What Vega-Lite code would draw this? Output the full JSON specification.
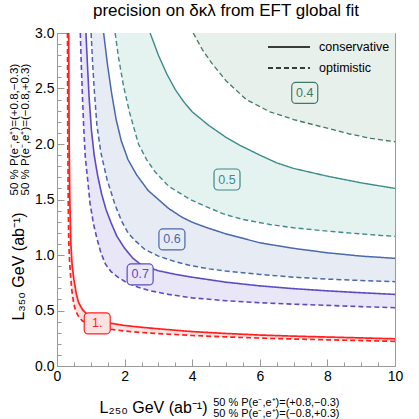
{
 "$schema": "https://vega.github.io/schema/vega-lite/v6.json",
 "width": 338, "height": 333, "autosize": "none",
 "padding": {"left": 57, "top": 33, "right": 24, "bottom": 53},
 "title": {"text": "precision on δκλ from EFT global fit", "fontSize": 17, "fontWeight": "normal", "font": "Liberation Sans", "offset": 8, "dy": 15, "baseline": "alphabetic", "anchor": "middle", "color": "black"},
 "config": {"view": {"stroke": "#999", "strokeWidth": 1}, "font": "Liberation Sans",
  "axis": {"grid": false, "domainColor": "#999", "tickColor": "#999", "labelColor": "black", "labelFontSize": 14, "labelFont": "Liberation Sans", "titleFont": "Liberation Sans", "titleFontWeight": "normal", "titleFontSize": 16, "titleColor": "black", "labelOverlap": false, "labelFlush": false, "zindex": 1}},
 "datasets": {
  "curves": [
   {"lv":"1.","st":"optimistic","x":0.31,"y":3.0},{"lv":"1.","st":"optimistic","x":0.32,"y":2.0},{"lv":"1.","st":"optimistic","x":0.335,"y":1.4},{"lv":"1.","st":"optimistic","x":0.35,"y":1.1},{"lv":"1.","st":"optimistic","x":0.37,"y":0.95},{"lv":"1.","st":"optimistic","x":0.4,"y":0.82},{"lv":"1.","st":"optimistic","x":0.44,"y":0.68},{"lv":"1.","st":"optimistic","x":0.49,"y":0.57},{"lv":"1.","st":"optimistic","x":0.55,"y":0.5},{"lv":"1.","st":"optimistic","x":0.63,"y":0.45},{"lv":"1.","st":"optimistic","x":0.74,"y":0.41},{"lv":"1.","st":"optimistic","x":0.9,"y":0.38},{"lv":"1.","st":"optimistic","x":1.1,"y":0.36},{"lv":"1.","st":"optimistic","x":1.48,"y":0.335},{"lv":"1.","st":"optimistic","x":2.0,"y":0.315},{"lv":"1.","st":"optimistic","x":2.46,"y":0.303},{"lv":"1.","st":"optimistic","x":3.0,"y":0.292},{"lv":"1.","st":"optimistic","x":4.0,"y":0.275},{"lv":"1.","st":"optimistic","x":5.0,"y":0.262},{"lv":"1.","st":"optimistic","x":6.0,"y":0.252},{"lv":"1.","st":"optimistic","x":7.0,"y":0.243},{"lv":"1.","st":"optimistic","x":8.0,"y":0.236},{"lv":"1.","st":"optimistic","x":9.0,"y":0.229},{"lv":"1.","st":"optimistic","x":10.0,"y":0.222},
   {"lv":"1.","st":"conservative","x":0.345,"y":3.0},{"lv":"1.","st":"conservative","x":0.36,"y":2.0},{"lv":"1.","st":"conservative","x":0.38,"y":1.5},{"lv":"1.","st":"conservative","x":0.41,"y":1.1},{"lv":"1.","st":"conservative","x":0.45,"y":0.9},{"lv":"1.","st":"conservative","x":0.5,"y":0.78},{"lv":"1.","st":"conservative","x":0.57,"y":0.65},{"lv":"1.","st":"conservative","x":0.64,"y":0.57},{"lv":"1.","st":"conservative","x":0.75,"y":0.51},{"lv":"1.","st":"conservative","x":0.89,"y":0.465},{"lv":"1.","st":"conservative","x":1.0,"y":0.44},{"lv":"1.","st":"conservative","x":1.2,"y":0.41},{"lv":"1.","st":"conservative","x":1.48,"y":0.39},{"lv":"1.","st":"conservative","x":2.0,"y":0.365},{"lv":"1.","st":"conservative","x":2.46,"y":0.35},{"lv":"1.","st":"conservative","x":3.0,"y":0.335},{"lv":"1.","st":"conservative","x":4.0,"y":0.31},{"lv":"1.","st":"conservative","x":5.0,"y":0.293},{"lv":"1.","st":"conservative","x":6.0,"y":0.279},{"lv":"1.","st":"conservative","x":7.0,"y":0.269},{"lv":"1.","st":"conservative","x":8.0,"y":0.261},{"lv":"1.","st":"conservative","x":9.0,"y":0.253},{"lv":"1.","st":"conservative","x":10.0,"y":0.245},
   {"lv":"0.7","st":"optimistic","x":0.69,"y":3.0},{"lv":"0.7","st":"optimistic","x":0.72,"y":2.7},{"lv":"0.7","st":"optimistic","x":0.75,"y":2.45},{"lv":"0.7","st":"optimistic","x":0.79,"y":2.15},{"lv":"0.7","st":"optimistic","x":0.84,"y":1.87},{"lv":"0.7","st":"optimistic","x":0.9,"y":1.7},{"lv":"0.7","st":"optimistic","x":0.98,"y":1.46},{"lv":"0.7","st":"optimistic","x":1.08,"y":1.28},{"lv":"0.7","st":"optimistic","x":1.18,"y":1.15},{"lv":"0.7","st":"optimistic","x":1.3,"y":1.02},{"lv":"0.7","st":"optimistic","x":1.43,"y":0.92},{"lv":"0.7","st":"optimistic","x":1.6,"y":0.85},{"lv":"0.7","st":"optimistic","x":1.8,"y":0.8},{"lv":"0.7","st":"optimistic","x":2.07,"y":0.75},{"lv":"0.7","st":"optimistic","x":2.4,"y":0.71},{"lv":"0.7","st":"optimistic","x":2.76,"y":0.678},{"lv":"0.7","st":"optimistic","x":3.3,"y":0.645},{"lv":"0.7","st":"optimistic","x":4.0,"y":0.614},{"lv":"0.7","st":"optimistic","x":5.0,"y":0.588},{"lv":"0.7","st":"optimistic","x":6.0,"y":0.57},{"lv":"0.7","st":"optimistic","x":7.0,"y":0.557},{"lv":"0.7","st":"optimistic","x":8.0,"y":0.546},{"lv":"0.7","st":"optimistic","x":9.0,"y":0.535},{"lv":"0.7","st":"optimistic","x":10.0,"y":0.525},
   {"lv":"0.7","st":"conservative","x":0.856,"y":3.0},{"lv":"0.7","st":"conservative","x":0.9,"y":2.72},{"lv":"0.7","st":"conservative","x":0.95,"y":2.42},{"lv":"0.7","st":"conservative","x":1.02,"y":2.12},{"lv":"0.7","st":"conservative","x":1.1,"y":1.9},{"lv":"0.7","st":"conservative","x":1.2,"y":1.72},{"lv":"0.7","st":"conservative","x":1.32,"y":1.55},{"lv":"0.7","st":"conservative","x":1.45,"y":1.41},{"lv":"0.7","st":"conservative","x":1.6,"y":1.29},{"lv":"0.7","st":"conservative","x":1.77,"y":1.17},{"lv":"0.7","st":"conservative","x":2.0,"y":1.06},{"lv":"0.7","st":"conservative","x":2.25,"y":0.97},{"lv":"0.7","st":"conservative","x":2.5,"y":0.91},{"lv":"0.7","st":"conservative","x":3.0,"y":0.858},{"lv":"0.7","st":"conservative","x":3.5,"y":0.826},{"lv":"0.7","st":"conservative","x":4.0,"y":0.8},{"lv":"0.7","st":"conservative","x":5.0,"y":0.755},{"lv":"0.7","st":"conservative","x":6.0,"y":0.722},{"lv":"0.7","st":"conservative","x":7.0,"y":0.697},{"lv":"0.7","st":"conservative","x":8.0,"y":0.677},{"lv":"0.7","st":"conservative","x":9.0,"y":0.66},{"lv":"0.7","st":"conservative","x":10.0,"y":0.645},
   {"lv":"0.6","st":"optimistic","x":1.01,"y":3.0},{"lv":"0.6","st":"optimistic","x":1.05,"y":2.75},{"lv":"0.6","st":"optimistic","x":1.1,"y":2.5},{"lv":"0.6","st":"optimistic","x":1.18,"y":2.17},{"lv":"0.6","st":"optimistic","x":1.3,"y":1.92},{"lv":"0.6","st":"optimistic","x":1.48,"y":1.68},{"lv":"0.6","st":"optimistic","x":1.72,"y":1.45},{"lv":"0.6","st":"optimistic","x":1.92,"y":1.3},{"lv":"0.6","st":"optimistic","x":2.1,"y":1.2},{"lv":"0.6","st":"optimistic","x":2.31,"y":1.13},{"lv":"0.6","st":"optimistic","x":2.6,"y":1.05},{"lv":"0.6","st":"optimistic","x":3.0,"y":0.99},{"lv":"0.6","st":"optimistic","x":3.5,"y":0.94},{"lv":"0.6","st":"optimistic","x":3.94,"y":0.906},{"lv":"0.6","st":"optimistic","x":4.5,"y":0.875},{"lv":"0.6","st":"optimistic","x":5.0,"y":0.855},{"lv":"0.6","st":"optimistic","x":6.0,"y":0.825},{"lv":"0.6","st":"optimistic","x":7.0,"y":0.8},{"lv":"0.6","st":"optimistic","x":8.0,"y":0.783},{"lv":"0.6","st":"optimistic","x":9.0,"y":0.77},{"lv":"0.6","st":"optimistic","x":10.0,"y":0.76},
   {"lv":"0.6","st":"conservative","x":1.38,"y":3.0},{"lv":"0.6","st":"conservative","x":1.5,"y":2.7},{"lv":"0.6","st":"conservative","x":1.62,"y":2.45},{"lv":"0.6","st":"conservative","x":1.75,"y":2.22},{"lv":"0.6","st":"conservative","x":1.9,"y":2.03},{"lv":"0.6","st":"conservative","x":2.1,"y":1.86},{"lv":"0.6","st":"conservative","x":2.36,"y":1.72},{"lv":"0.6","st":"conservative","x":2.7,"y":1.58},{"lv":"0.6","st":"conservative","x":3.0,"y":1.5},{"lv":"0.6","st":"conservative","x":3.3,"y":1.42},{"lv":"0.6","st":"conservative","x":3.7,"y":1.34},{"lv":"0.6","st":"conservative","x":4.0,"y":1.295},{"lv":"0.6","st":"conservative","x":4.4,"y":1.25},{"lv":"0.6","st":"conservative","x":5.0,"y":1.19},{"lv":"0.6","st":"conservative","x":6.0,"y":1.11},{"lv":"0.6","st":"conservative","x":7.0,"y":1.06},{"lv":"0.6","st":"conservative","x":8.0,"y":1.02},{"lv":"0.6","st":"conservative","x":9.0,"y":0.99},{"lv":"0.6","st":"conservative","x":10.0,"y":0.97},
   {"lv":"0.5","st":"optimistic","x":1.72,"y":3.0},{"lv":"0.5","st":"optimistic","x":1.82,"y":2.78},{"lv":"0.5","st":"optimistic","x":1.97,"y":2.52},{"lv":"0.5","st":"optimistic","x":2.15,"y":2.28},{"lv":"0.5","st":"optimistic","x":2.41,"y":2.0},{"lv":"0.5","st":"optimistic","x":2.65,"y":1.86},{"lv":"0.5","st":"optimistic","x":2.9,"y":1.75},{"lv":"0.5","st":"optimistic","x":3.3,"y":1.62},{"lv":"0.5","st":"optimistic","x":3.94,"y":1.5},{"lv":"0.5","st":"optimistic","x":4.38,"y":1.44},{"lv":"0.5","st":"optimistic","x":4.92,"y":1.37},{"lv":"0.5","st":"optimistic","x":5.5,"y":1.32},{"lv":"0.5","st":"optimistic","x":6.3,"y":1.275},{"lv":"0.5","st":"optimistic","x":7.0,"y":1.245},{"lv":"0.5","st":"optimistic","x":8.0,"y":1.215},{"lv":"0.5","st":"optimistic","x":9.0,"y":1.19},{"lv":"0.5","st":"optimistic","x":10.0,"y":1.167},
   {"lv":"0.5","st":"conservative","x":2.755,"y":3.0},{"lv":"0.5","st":"conservative","x":3.0,"y":2.8},{"lv":"0.5","st":"conservative","x":3.25,"y":2.63},{"lv":"0.5","st":"conservative","x":3.5,"y":2.49},{"lv":"0.5","st":"conservative","x":3.75,"y":2.38},{"lv":"0.5","st":"conservative","x":4.0,"y":2.29},{"lv":"0.5","st":"conservative","x":4.48,"y":2.17},{"lv":"0.5","st":"conservative","x":5.0,"y":2.06},{"lv":"0.5","st":"conservative","x":5.4,"y":1.99},{"lv":"0.5","st":"conservative","x":6.0,"y":1.9},{"lv":"0.5","st":"conservative","x":6.5,"y":1.83},{"lv":"0.5","st":"conservative","x":7.0,"y":1.78},{"lv":"0.5","st":"conservative","x":8.0,"y":1.71},{"lv":"0.5","st":"conservative","x":9.0,"y":1.65},{"lv":"0.5","st":"conservative","x":10.0,"y":1.6},
   {"lv":"0.4","st":"optimistic","x":4.03,"y":3.0},{"lv":"0.4","st":"optimistic","x":4.3,"y":2.85},{"lv":"0.4","st":"optimistic","x":4.6,"y":2.72},{"lv":"0.4","st":"optimistic","x":5.0,"y":2.57},{"lv":"0.4","st":"optimistic","x":5.6,"y":2.4},{"lv":"0.4","st":"optimistic","x":6.3,"y":2.29},{"lv":"0.4","st":"optimistic","x":7.0,"y":2.22},{"lv":"0.4","st":"optimistic","x":7.7,"y":2.165},{"lv":"0.4","st":"optimistic","x":8.66,"y":2.09},{"lv":"0.4","st":"optimistic","x":9.3,"y":2.05},{"lv":"0.4","st":"optimistic","x":10.0,"y":2.02}
  ],
  "labels": [
   {"lab":"1.","lv":"1.","x":1.19,"y":0.384},
   {"lab":"0.7","lv":"0.7","x":2.46,"y":0.825},
   {"lab":"0.6","lv":"0.6","x":3.4,"y":1.14},
   {"lab":"0.5","lv":"0.5","x":5.03,"y":1.68},
   {"lab":"0.4","lv":"0.4","x":7.33,"y":2.46}
  ],
  "notes": [
   {"where":"x","t":["50 % P(e⁻,e⁺)=(+0.8,−0.3)", "50 % P(e⁻,e⁺)=(−0.8,+0.3)"],"x":4.62,"y":-0.336},
   {"where":"y","t":["50 % P(e⁻,e⁺)=(+0.8,−0.3)", "50 % P(e⁻,e⁺)=(−0.8,+0.3)"],"x":-1.23,"y":2.13}
  ]
 },
 "data": {"name": "curves"},
 "encoding": {
  "x": {"field": "x", "type": "quantitative", "scale": {"domain": [0, 10], "nice": false, "zero": false},
   "axis": {"values": [0,0.5,1,1.5,2,2.5,3,3.5,4,4.5,5,5.5,6,6.5,7,7.5,8,8.5,9,9.5,10],
    "labelExpr": "datum.value % 2 == 0 ? format(datum.value, 'd') : ''",
    "tickSize": {"condition": {"test": "datum.value % 2 == 0", "value": -7}, "value": -4},
    "labelPadding": 10,
    "title": "L₂₅₀ GeV (ab⁻¹)", "titleX": 150, "titleY": 46, "titleAlign": "right", "titleBaseline": "alphabetic"}},
  "y": {"field": "y", "type": "quantitative", "scale": {"domain": [0, 3], "nice": false, "zero": false},
   "axis": {"values": [0,0.1,0.2,0.3,0.4,0.5,0.6,0.7,0.8,0.9,1,1.1,1.2,1.3,1.4,1.5,1.6,1.7,1.8,1.9,2,2.1,2.2,2.3,2.4,2.5,2.6,2.7,2.8,2.9,3],
    "labelExpr": "abs(datum.value*2 - round(datum.value*2)) < 0.001 ? format(datum.value, '.1f') : ''",
    "tickSize": {"condition": {"test": "abs(datum.value*2 - round(datum.value*2)) < 0.001", "value": -7}, "value": -4},
    "labelPadding": 10,
    "title": "L₃₅₀ GeV (ab⁻¹)", "titleX": -39, "titleY": 233, "titleAlign": "center", "titleBaseline": "middle"}}
 },
 "layer": [
  {"transform": [{"filter": "datum.lv == '1.' && datum.st == 'optimistic'"}], "mark": {"type": "area", "color": "#fde2e2", "opacity": 1, "clip": true}, "encoding": {"y2": {"datum": 3}}},
  {"transform": [{"filter": "datum.lv == '1.' && datum.st == 'conservative'"}], "mark": {"type": "area", "color": "white", "opacity": 1, "clip": true}, "encoding": {"y2": {"datum": 3}}},
  {"transform": [{"filter": "datum.lv == '0.7' && datum.st == 'optimistic'"}], "mark": {"type": "area", "color": "#e9e6f7", "opacity": 1, "clip": true}, "encoding": {"y2": {"datum": 3}}},
  {"transform": [{"filter": "datum.lv == '0.7' && datum.st == 'conservative'"}], "mark": {"type": "area", "color": "white", "opacity": 1, "clip": true}, "encoding": {"y2": {"datum": 3}}},
  {"transform": [{"filter": "datum.lv == '0.6' && datum.st == 'optimistic'"}], "mark": {"type": "area", "color": "#e6ebf4", "opacity": 1, "clip": true}, "encoding": {"y2": {"datum": 3}}},
  {"transform": [{"filter": "datum.lv == '0.6' && datum.st == 'conservative'"}], "mark": {"type": "area", "color": "white", "opacity": 1, "clip": true}, "encoding": {"y2": {"datum": 3}}},
  {"transform": [{"filter": "datum.lv == '0.5' && datum.st == 'optimistic'"}], "mark": {"type": "area", "color": "#e4f3f0", "opacity": 1, "clip": true}, "encoding": {"y2": {"datum": 3}}},
  {"transform": [{"filter": "datum.lv == '0.5' && datum.st == 'conservative'"}], "mark": {"type": "area", "color": "white", "opacity": 1, "clip": true}, "encoding": {"y2": {"datum": 3}}},
  {"transform": [{"filter": "datum.lv == '0.4' && datum.st == 'optimistic'"}], "mark": {"type": "area", "color": "#e7f0eb", "opacity": 1, "clip": true}, "encoding": {"y2": {"datum": 3}}},
  {"mark": {"type": "line", "clip": true},
   "encoding": {
    "stroke": {"field": "lv", "type": "nominal", "scale": {"domain": ["1.","0.7","0.6","0.5","0.4"], "range": ["#ff2020","#5b4cc4","#4a68ac","#3f8a8a","#3f7a68"]}, "legend": null},
    "strokeWidth": {"field": "lv", "type": "nominal", "scale": {"domain": ["1.","0.7","0.6","0.5","0.4"], "range": [1.7,1.3,1.3,1.3,1.3]}, "legend": null},
    "strokeDash": {"field": "st", "type": "nominal", "scale": {"domain": ["conservative","optimistic"], "range": [[1,0],[5,3]]},
     "legend": {"title": null, "orient": "none", "legendX": 224, "legendY": 6, "padding": 0, "symbolType": "M-3,0H3", "symbolSize": 196, "symbolStrokeColor": "black", "symbolFillColor": "transparent", "symbolStrokeWidth": 1.5, "labelOffset": 22, "labelFontSize": 12.5, "labelFont": "Liberation Sans", "labelColor": "black", "rowPadding": 6}}}},
  {"data": {"name": "labels"}, "mark": {"type": "rect", "width": 26, "height": 21, "cornerRadius": 4, "strokeWidth": 1.2},
   "encoding": {
    "fill": {"field": "lv", "type": "nominal", "scale": {"domain": ["1.","0.7","0.6","0.5","0.4"], "range": ["#fde2e2","#e9e6f7","#e6ebf4","#e4f3f0","#e7f0eb"]}, "legend": null},
    "stroke": {"field": "lv", "type": "nominal", "legend": null}}},
  {"data": {"name": "labels"}, "mark": {"type": "text", "fontSize": 12.5, "font": "Liberation Sans"},
   "encoding": {
    "text": {"field": "lab", "type": "nominal"},
    "color": {"field": "lv", "type": "nominal", "scale": {"domain": ["1.","0.7","0.6","0.5","0.4"], "range": ["#ff2020","#5b4cc4","#4a68ac","#3f8a8a","#3f7a68"]}, "legend": null}}},
  {"data": {"name": "notes"}, "transform": [{"filter": "datum.where == 'x'"}], "mark": {"type": "text", "align": "left", "baseline": "middle", "fontSize": 11, "lineHeight": 10.5, "font": "Liberation Sans", "color": "black"},
   "encoding": {"text": {"field": "t", "type": "nominal"}}},
  {"data": {"name": "notes"}, "transform": [{"filter": "datum.where == 'y'"}], "mark": {"type": "text", "align": "center", "baseline": "middle", "angle": 270, "fontSize": 11.5, "lineHeight": 10.5, "font": "Liberation Sans", "color": "black"},
   "encoding": {"text": {"field": "t", "type": "nominal"}}}
 ]
}
